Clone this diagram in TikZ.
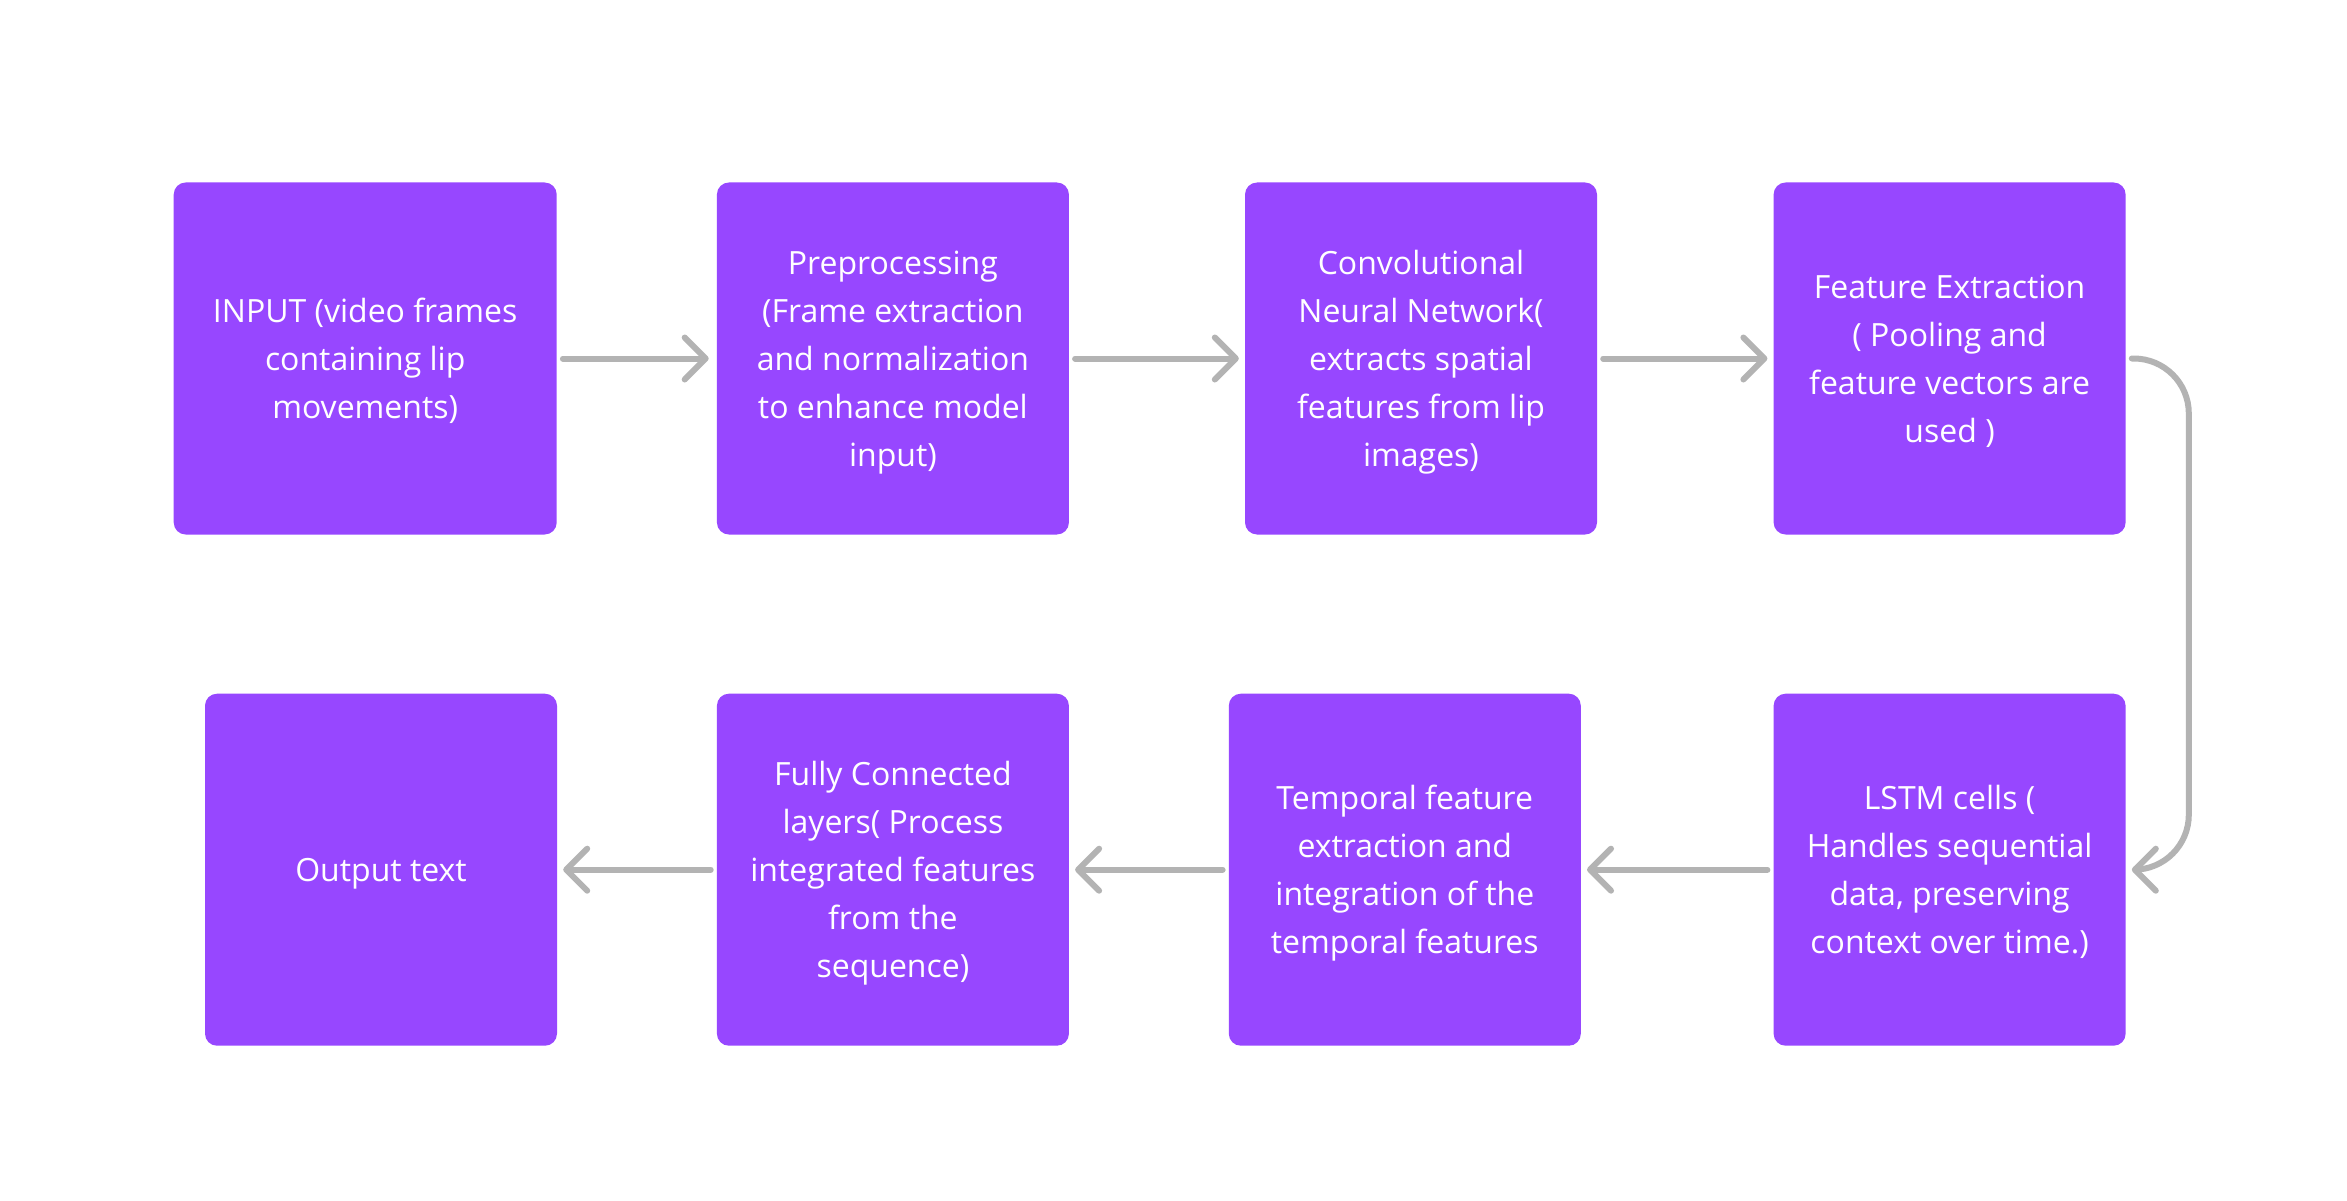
\documentclass[tikz,border=0pt]{standalone}
\usepackage{fontspec}
\setmainfont{Open Sans}
\usetikzlibrary{arrows.meta}
\definecolor{boxpurple}{HTML}{9747FF}
\definecolor{conngray}{HTML}{B3B3B3}
\begin{document}
\begin{tikzpicture}[x=1pt,y=-1pt,
  box/.style={fill=boxpurple, rounded corners=12pt, minimum width=352pt, minimum height=352pt,
    text=white, align=center, inner sep=0pt, font=\fontsize{32}{48}\selectfont,
    text depth=0pt},
  conn/.style={draw=conngray, line width=6pt, line cap=round,
    -{Straight Barb[length=21pt,width=42pt,round]}}]
\useasboundingbox[fill=white] (0,0) rectangle (2347,1201);
\node[box, minimum width=383pt] (b1) at (365.2,358.5) {INPUT (video frames\\containing lip\\movements)};
\node[box] (b2) at (892.9,358.5) {Preprocessing\\(Frame extraction\\and normalization\\to enhance model\\input)};
\node[box] (b3) at (1421,358.5) {Convolutional\\Neural Network(\\extracts spatial\\features from lip\\images)};
\node[box] (b4) at (1949.6,358.5) {Feature Extraction\\( Pooling and\\feature vectors are\\used )};
\node[box] (b8) at (1949.6,869.7) {LSTM cells (\\Handles sequential\\data, preserving\\context over time.)};
\node[box] (b7) at (1404.8,869.7) {Temporal feature\\extraction and\\integration of the\\temporal features};
\node[box] (b6) at (892.9,869.7) {Fully Connected\\layers( Process\\integrated features\\from the\\sequence)};
\node[box] (b5) at (381,869.7) {Output text};
\draw[conn, shorten <=6pt, shorten >=8pt] (b1) -- (b2);
\draw[conn, shorten <=6pt, shorten >=6pt] (b2) -- (b3);
\draw[conn, shorten <=6pt, shorten >=6pt] (b3) -- (b4);
\coordinate (c1) at ([xshift=6pt]b4.east);
\coordinate (c2) at ([xshift=6pt]b8.east);
\draw[conn, rounded corners=55pt] (c1) -- ++(57,0) |- (c2);
\draw[conn, shorten <=6pt, shorten >=6pt] (b8) -- (b7);
\draw[conn, shorten <=6pt, shorten >=6pt] (b7) -- (b6);
\draw[conn, shorten <=6pt, shorten >=6pt] (b6) -- (b5);
\end{tikzpicture}
\end{document}
